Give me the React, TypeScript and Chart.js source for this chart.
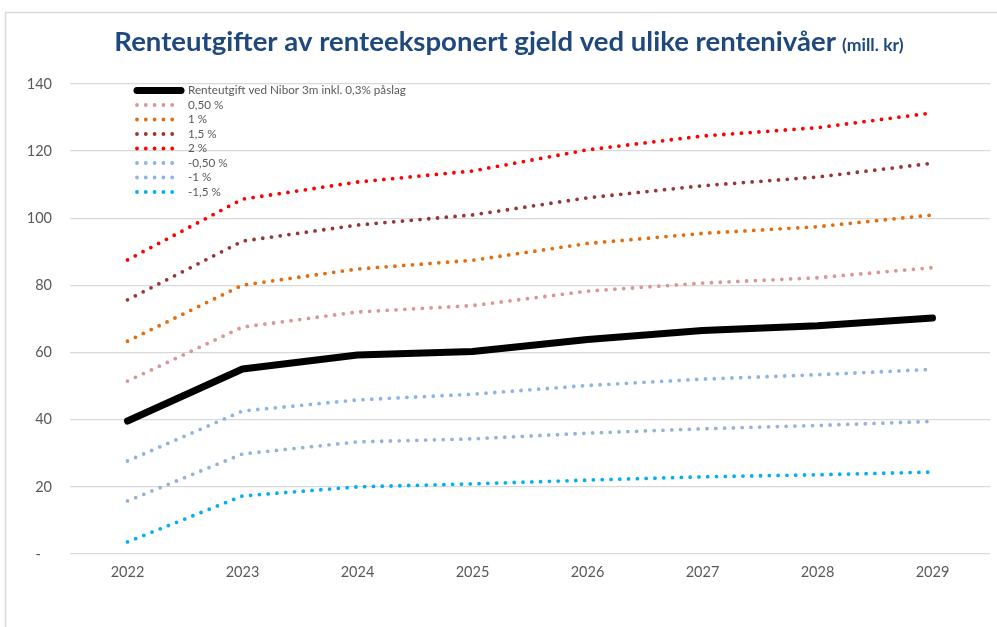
import React, { useEffect, useRef } from "react";
import { Chart, registerables } from "chart.js";

Chart.register(...registerables);

const years = ["2022", "2023", "2024", "2025", "2026", "2027", "2028", "2029"];
const baseNibor = [39.6, 55.1, 59.3, 60.3, 63.9, 66.6, 68.0, 70.3];
const plus050 = [51.5, 67.6, 72.1, 74.0, 78.3, 80.7, 82.3, 85.3];
const plus1 = [63.4, 80.1, 84.9, 87.5, 92.5, 95.5, 97.5, 101.0];
const plus15 = [75.7, 93.2, 98.0, 101.0, 106.1, 109.7, 112.3, 116.4];
const plus2 = [87.6, 105.7, 110.8, 114.1, 120.4, 124.5, 127.0, 131.4];
const minus050 = [27.7, 42.6, 45.9, 47.6, 50.2, 52.1, 53.4, 55.0];
const minus1 = [15.8, 29.8, 33.4, 34.3, 36.0, 37.3, 38.3, 39.5];
const minus15 = [3.6, 17.3, 20.0, 20.9, 22.0, 23.0, 23.6, 24.4];

const seriesLabels = [
  "Renteutgift ved Nibor 3m inkl. 0,3% påslag",
  "0,50 %",
  "1 %",
  "1,5 %",
  "2 %",
  "-0,50 %",
  "-1 %",
  "-1,5 %",
];
const seriesColors = ["#000000", "#d99694", "#e46c0a", "#953735", "#ff0000", "#8eb4e3", "#95b3d7", "#00b0f0"];

const titleMain = "Renteutgifter av renteeksponert gjeld ved ulike rentenivåer";
const titleUnit = "(mill. kr)";

const FONT = "Lato, 'Open Sans', sans-serif";

const framePlugin = {
  id: "frameAndTitle",
  beforeDraw(chart: any) {
    const ctx = chart.ctx;
    ctx.save();
    ctx.fillStyle = "#ffffff";
    ctx.fillRect(0, 0, chart.width, chart.height);
    ctx.strokeStyle = "#d9d9d9";
    ctx.lineWidth = 1.5;
    ctx.strokeRect(5.5, 12.5, chart.width + 20, chart.height + 20);
    ctx.restore();
  },
  afterDraw(chart: any) {
    const ctx = chart.ctx;
    ctx.save();
    // title
    ctx.fillStyle = "#1f497d";
    ctx.textBaseline = "alphabetic";
    ctx.textAlign = "left";
    let size = 24;
    ctx.font = `bold ${size}px ${FONT}`;
    const w0 = ctx.measureText(titleMain).width;
    size = (size * 722) / w0;
    ctx.font = `bold ${size}px ${FONT}`;
    const wMain = ctx.measureText(titleMain).width;
    const smallFont = `bold ${size * 0.64}px ${FONT}`;
    ctx.font = smallFont;
    const wUnit = ctx.measureText(titleUnit).width;
    const gap = 6;
    const total = wMain + gap + wUnit;
    const x0 = 509 - total / 2;
    const baseY = 51;
    ctx.font = `bold ${size}px ${FONT}`;
    ctx.fillText(titleMain, x0, baseY);
    ctx.font = smallFont;
    ctx.fillText(titleUnit, x0 + wMain + gap, baseY);

    // legend
    const lx = 135;
    const lw = 48;
    const ly0 = 90.5;
    const step = 14.5;
    chart.data.datasets.forEach((ds: any, i: number) => {
      const y = ly0 + i * step;
      ctx.beginPath();
      ctx.strokeStyle = ds.borderColor;
      ctx.lineWidth = ds.borderWidth;
      ctx.lineCap = "round";
      if (ds.borderDash && ds.borderDash.length) {
        ctx.setLineDash(ds.borderDash);
      } else {
        ctx.setLineDash([]);
      }
      ctx.moveTo(lx + 2, y);
      ctx.lineTo(lx + lw - 2, y);
      ctx.stroke();
      ctx.setLineDash([]);
      ctx.fillStyle = "#595959";
      ctx.font = `11.7px ${FONT}`;
      ctx.textBaseline = "middle";
      ctx.fillText(ds.label, lx + lw + 5, y);
    });
    ctx.restore();
  },
};

export default function App() {
  const ref = useRef<HTMLCanvasElement | null>(null);

  useEffect(() => {
    document.body.style.margin = "0";
    const all = [baseNibor, plus050, plus1, plus15, plus2, minus050, minus1, minus15];
    const datasets = all.map((d, i) => {
      const isBase = i === 0;
      return {
        label: seriesLabels[i],
        data: d,
        borderColor: seriesColors[i],
        backgroundColor: seriesColors[i],
        borderWidth: isBase ? 7 : 3.8,
        borderDash: isBase ? [] : [0, 8.8],
        borderCapStyle: "round" as const,
        borderJoinStyle: "round" as const,
        pointRadius: 0,
        tension: 0,
        fill: false,
        order: isBase ? 0 : 1,
      };
    });
    const chart = new Chart(ref.current as HTMLCanvasElement, {
      type: "line",
      data: { labels: years, datasets },
      plugins: [framePlugin],
      options: {
        animation: false,
        responsive: false,
        devicePixelRatio: 1,
        layout: { padding: { top: 84, right: 7, bottom: 0, left: 0 } },
        plugins: {
          legend: { display: false },
          title: { display: false },
          tooltip: { enabled: false },
        },
        scales: {
          x: {
            offset: true,
            grid: { display: false, drawTicks: false },
            border: { display: false },
            ticks: { color: "#595959", font: { family: FONT, size: 14.5 }, padding: 10 },
            afterFit: (s: any) => {
              s.height = 627 - 554;
            },
          },
          y: {
            min: 0,
            max: 140,
            grid: { color: "#d9d9d9", lineWidth: 1.3, drawTicks: false },
            border: { display: false },
            ticks: {
              stepSize: 20,
              color: "#595959",
              font: { family: FONT, size: 14.5 },
              padding: 18,
              callback: (v: any) => (v === 0 ? "-   " : String(v)),
            },
            afterFit: (s: any) => {
              s.width = 70;
            },
          },
        },
      },
    });
    return () => chart.destroy();
  }, []);

  return (
    <div style={{ position: "absolute", left: 0, top: 0, width: 997, height: 627 }}>
      <canvas ref={ref} width={997} height={627} style={{ width: 997, height: 627 }} />
    </div>
  );
}
